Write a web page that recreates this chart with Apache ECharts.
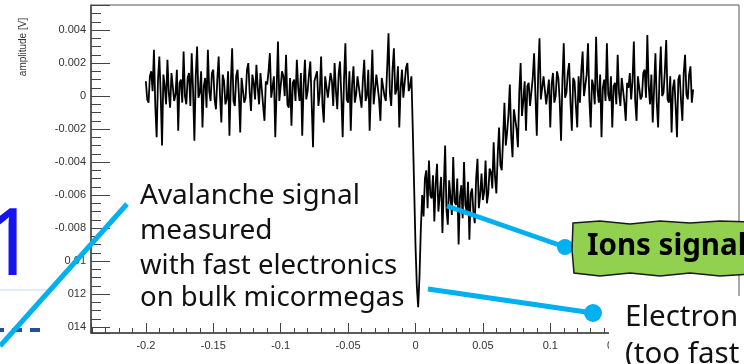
<!DOCTYPE html>
<html>
<head>
<meta charset="utf-8">
<script src="https://cdn.jsdelivr.net/npm/echarts@6/dist/echarts.min.js"></script>
<style>
  html, body { margin: 0; padding: 0; background: #fff; }
  #chart { width: 744px; height: 364px; }
</style>
</head>
<body>
<div id="chart"></div>
<script>
var sampleStart = -0.2;
var sampleStep = 0.001;
var amplitudeMv = [
  0.9, -0.2, -0.4, 1.2, 1.5, 0.3, 2.8, -0.6, -2.5, 1.0,
  2.4, 0.1, -3.0, 1.3, 0.6, -0.5, 2.2, 0.2, -0.7, 1.4,
  1.3, -0.3, 0.1, 1.6, -2.1, 0.8, 1.0, -0.4, 2.7, 0.0,
  -0.5, 1.1, 1.4, -0.6, 2.6, 0.4, -2.7, 1.2, 3.0, -0.1,
  0.2, 1.5, -1.9, 0.6, 1.1, -0.7, 2.8, 0.3, -0.3, 1.4,
  1.6, -0.2, -0.8, 1.0, 2.4, 0.0, -1.6, 1.3, 0.9, -0.5,
  -0.2, 1.5, -2.4, 0.7, 2.9, -0.3, -0.6, 1.2, 1.6, 0.1,
  -2.2, 1.1, 1.2, -0.4, -0.1, 1.6, 2.0, 0.2, -0.9, 1.3,
  0.8, -0.2, 1.9, 0.5, -0.5, 1.4, 1.3, -0.6, -1.5, 0.9,
  0.7, 1.5, 2.6, -0.1, 0.0, 1.2, -2.5, 0.4, 3.3, -0.3,
  -0.4, 1.5, 1.2, 0.0, 2.5, -0.5, -0.7, 1.1, -1.8, 0.8,
  1.0, -0.3, 2.2, 0.5, -0.3, 1.4, -2.4, 0.6, 2.2, -0.2,
  0.3, 1.3, 2.1, -0.4, -3.1, 0.9, 0.8, 1.5, -0.6, 0.2,
  2.4, -0.5, -1.6, 1.2, 1.1, -0.1, -0.2, 1.4, 0.9, -0.6,
  2.0, 0.3, -0.8, 1.3, 2.1, 0.0, -2.5, 1.0, 3.2, -0.2,
  -0.4, 1.5, -2.1, 0.7, 1.8, -0.4, 0.1, 1.2, 1.3, -0.1,
  -0.7, 1.0, 2.2, -0.3, 0.0, 1.6, -2.1, 0.4, 2.8, -0.5,
  -0.5, 1.3, 1.4, -0.2, -1.5, 1.1, 1.0, 0.0, -0.3, 1.7,
  3.8, 0.2, -0.6, 1.6, 2.9, 0.1, 0.4, 1.8, -1.9, 0.5,
  1.6, -0.1, -0.2, 1.7, 2.0, 0.3, 0.6, 1.2, -2.0, -5.5,
  -9.0, -11.5, -12.8, -10.9, -8.0, -6.0, -7.3, -5.0, -4.5, -6.8,
  -3.9, -6.0, -6.2, -4.8, -7.6, -5.3, -4.1, -7.0, -6.0, -4.9,
  -8.3, -5.6, -3.0, -6.9, -7.8, -5.1, -5.2, -7.2, -3.7, -6.4,
  -6.6, -5.0, -9.0, -6.1, -5.4, -7.4, -4.0, -6.6, -7.0, -5.2,
  -8.7, -5.9, -5.6, -7.1, -7.7, -5.0, -3.8, -6.8, -6.0, -4.7,
  -6.3, -5.8, -3.9, -6.5, -5.9, -4.4, -4.6, -5.6, -2.8, -4.9,
  -5.9, -3.6, -1.9, -4.2, -4.5, -2.6, -0.4, -3.0, -2.2, -1.1,
  0.7, -2.4, -3.7, -0.8, -0.9, -2.0, -3.1, 0.2, 2.0, -1.2,
  -0.3, 0.9, -2.1, 0.6, 0.8, -0.6, -0.5, 1.1, 2.6, 0.0,
  -2.4, 1.3, 3.5, -0.2, -0.3, 1.2, 1.2, -0.5, -0.6, 1.0,
  -1.9, 0.7, 1.4, -0.4, 0.0, 1.5, 1.1, -0.3, -2.7, 0.9,
  3.2, -0.1, 0.2, 1.4, 2.0, -0.4, -2.1, 1.1, 0.9, -0.6,
  -1.9, 1.2, -0.4, 1.5, 2.7, 0.0, 0.1, 1.3, 3.2, -0.2,
  -1.9, 1.0, 0.6, -0.5, 3.6, 0.4, -0.4, 1.3, -2.5, 0.5,
  1.0, -0.3, 3.2, 0.1, -0.3, 1.2, -1.9, 0.6, 0.8, -0.5,
  2.5, 0.2, -0.6, 1.1, 1.1, -0.4, -1.5, 0.8, 0.5, 1.4,
  -0.2, 0.9, 3.3, -0.3, -1.5, 1.2, 1.2, -0.2, 0.0, 1.4,
  1.6, -0.1, 3.7, 0.6, -0.5, 1.3, -1.6, 0.4, 2.6, -0.4,
  -1.9, 1.1, 3.0, 0.0, 0.2, 1.5, 3.4, -0.2, -0.4, 1.2,
  -2.2, 0.5, 1.0, -0.6, -2.5, 1.0, 1.3, -0.3, -1.5, 1.4,
  2.5, 0.1, -0.2, 1.3, 1.8, -0.4,
  0.4
];

var xTickValues = [-0.2, -0.15, -0.1, -0.05, 0, 0.05, 0.1, 0.15, 0.2];
var xTickLabels = ['-0.2', '-0.15', '-0.1', '-0.05', '0', '0.05', '0.1', '0.15', '0.2'];
// lower labels are partly hidden on the slide
var yTickValues = [0.004, 0.002, 0, -0.002, -0.004, -0.006, -0.008, -0.01, -0.012, -0.014];
var yTickLabels = ['0.004', '0.002', '0', '-0.002', '-0.004', '-0.006', '-0.008', '0.01', '012', '014'];

function pickLabel(values, labels) {
  return function (v) {
    for (var k = 0; k < values.length; k++) {
      if (Math.abs(values[k] - v) < 1e-9) return labels[k];
    }
    return '';
  };
}

var trace = amplitudeMv.map(function (mv, i) {
  return [sampleStart + i * sampleStep, mv / 1000];
});

var cyan = '#00b0f0';
var textFont = '"Noto Sans", sans-serif';

var chart = echarts.init(document.getElementById('chart'));
chart.setOption({
  animation: false,
  backgroundColor: '#fff',
  grid: {
    left: 91,
    top: 5,
    right: 5,
    bottom: 31,
    show: true,
    borderColor: '#555',
    borderWidth: 1,
    containLabel: false,
    outerBoundsMode: 'none'
  },
  xAxis: {
    type: 'value',
    min: -0.2407,
    max: 0.24,
    splitNumber: 10,
    showMinLabel: false,
    showMaxLabel: false,
    splitLine: { show: false },
    axisLine: { onZero: false, lineStyle: { color: '#444', width: 1.5 } },
    axisTick: { inside: true, length: 10, lineStyle: { color: '#444' } },
    minorTick: { show: true, splitNumber: 5, length: 5, lineStyle: { color: '#444' } },
    axisLabel: {
      margin: 7,
      fontSize: 11,
      color: '#333',
      fontFamily: '"Liberation Sans", Arial, sans-serif',
      formatter: pickLabel(xTickValues, xTickLabels)
    }
  },
  yAxis: {
    type: 'value',
    min: -0.01436,
    max: 0.00552,
    splitNumber: 10,
    showMinLabel: false,
    showMaxLabel: false,
    splitLine: { show: false },
    axisLine: { onZero: false, lineStyle: { color: '#444', width: 1.5 } },
    axisTick: { inside: true, length: 19, lineStyle: { color: '#444' } },
    minorTick: { show: true, splitNumber: 4, length: 10, lineStyle: { color: '#444' } },
    axisLabel: {
      margin: 5,
      fontSize: 11,
      color: '#333',
      fontFamily: '"Liberation Sans", Arial, sans-serif',
      formatter: pickLabel(yTickValues, yTickLabels)
    }
  },
  series: [{
    type: 'line',
    data: trace,
    showSymbol: false,
    lineStyle: { color: '#000', width: 1.8 },
    z: 3
  }],
  graphic: [
    {
      type: 'text', x: 23, y: 47, rotation: Math.PI / 2,
      style: { text: 'amplitude [V]', fill: '#333', font: '10px "Liberation Sans", Arial, sans-serif', textAlign: 'center', textVerticalAlign: 'middle' }
    },
    // slide decorations on the left
    { type: 'line', shape: { x1: 0, y1: 290, x2: 55, y2: 290 }, style: { stroke: '#e3ecf8', lineWidth: 2 }, z: 10 },
    { type: 'line', shape: { x1: 0, y1: 330, x2: 40, y2: 330 }, style: { stroke: '#24509a', lineWidth: 4, lineDash: [10, 8], lineDashOffset: 6 }, z: 10 },
    {
      type: 'text', x: 37, y: 248,
      style: { text: '1', fill: '#1414f0', font: '94px "Noto Sans", sans-serif', textAlign: 'right', textVerticalAlign: 'middle' }, z: 10
    },
    { type: 'line', shape: { x1: 0, y1: 346, x2: 127, y2: 204 }, style: { stroke: cyan, lineWidth: 5 }, z: 11 },
    // avalanche text
    { type: 'text', x: 140, y: 196, style: { text: 'Avalanche signal', fill: '#111', font: '28px ' + textFont, textVerticalAlign: 'middle' }, z: 10 },
    { type: 'text', x: 140, y: 231, style: { text: 'measured', fill: '#111', font: '28px ' + textFont, textVerticalAlign: 'middle' }, z: 10 },
    { type: 'text', x: 140, y: 266, style: { text: 'with fast electronics', fill: '#111', font: '27.5px ' + textFont, textVerticalAlign: 'middle' }, z: 10 },
    { type: 'text', x: 140, y: 298, style: { text: 'on bulk micormegas', fill: '#111', font: '27.5px ' + textFont, textVerticalAlign: 'middle' }, z: 10 },
    // ions pointer
    { type: 'line', shape: { x1: 447, y1: 206, x2: 565, y2: 247 }, style: { stroke: cyan, lineWidth: 5 }, z: 11 },
    { type: 'circle', shape: { cx: 565, cy: 247, r: 8 }, style: { fill: cyan }, z: 11 },
    {
      type: 'polygon',
      shape: { points: [[573, 223], [600, 221], [630, 224], [660, 221], [690, 223], [720, 221], [750, 222], [750, 274], [720, 276], [690, 273], [660, 276], [630, 273], [600, 276], [574, 273], [572, 250]] },
      style: { fill: '#92d050', stroke: '#1a1a1a', lineWidth: 1.5 }, z: 12
    },
    { type: 'text', x: 587, y: 247, style: { text: 'Ions signal', fill: '#000', font: 'bold 29.5px ' + textFont, textVerticalAlign: 'middle' }, z: 13 },
    // electron pointer
    { type: 'rect', shape: { x: 609, y: 296, width: 140, height: 70 }, style: { fill: '#fff' }, z: 10 },
    { type: 'line', shape: { x1: 428, y1: 289, x2: 593, y2: 313 }, style: { stroke: cyan, lineWidth: 5 }, z: 11 },
    { type: 'circle', shape: { cx: 593, cy: 313, r: 9 }, style: { fill: cyan }, z: 11 },
    { type: 'text', x: 625, y: 318, style: { text: 'Electron', fill: '#111', font: '29.5px ' + textFont, textVerticalAlign: 'middle' }, z: 12 },
    { type: 'text', x: 625, y: 355, style: { text: '(too fast', fill: '#111', font: '29.5px ' + textFont, textVerticalAlign: 'middle' }, z: 12 }
  ]
});
</script>
</body>
</html>
